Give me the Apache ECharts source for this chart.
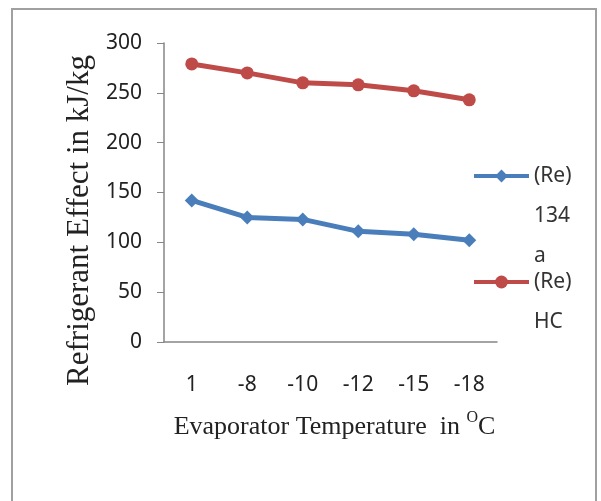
<!DOCTYPE html>
<html>
<head>
<meta charset="utf-8">
<script src="https://cdn.jsdelivr.net/npm/echarts@6/dist/echarts.min.js"></script>
<style>
html,body{margin:0;padding:0;background:#fff;}
#chart{width:601px;height:501px;}
</style>
</head>
<body>
<div id="chart"></div>
<script>
var categories = ['1', '-8', '-10', '-12', '-15', '-18'];
var re134a = [142, 125, 123, 111, 108, 102];
var reHC = [279, 270, 260, 258, 252, 243];
var seriesNames = ['(Re) 134a', '(Re) HC'];
var legendLines = {'(Re) 134a': '\n\n(Re)\n134\na', '(Re) HC': '\n(Re)\nHC'};
var yTicks = {min: 0, max: 300, interval: 50};

var chart = echarts.init(document.getElementById('chart'), null, {renderer: 'canvas'});
var sans = '"Noto Sans", "Open Sans", sans-serif';
var serif = '"Liberation Serif", "DejaVu Serif", serif';
var BLUE = '#4A7EBB', RED = '#BE4B48';

function legendCfg(name, top) {
  return {
    data: [name],
    orient: 'vertical',
    left: 472,
    top: top,
    padding: 0,
    itemWidth: 55,
    itemHeight: 16,
    selectedMode: false,
    lineStyle: {width: 4},
    formatter: function (n) { return legendLines[n]; },
    textStyle: {fontFamily: sans, fontSize: 21, color: '#333', lineHeight: 40}
  };
}

chart.setOption({
  animation: false,
  backgroundColor: '#fff',
  graphic: [{
    type: 'rect',
    shape: {x: 12, y: 9, width: 584, height: 520},
    style: {fill: 'none', stroke: '#a0a0a0', lineWidth: 2},
    silent: true
  }],
  grid: {left: 164, top: 43, width: 333, height: 299},
  legend: [legendCfg(seriesNames[0], 76), legendCfg(seriesNames[1], 222)],
  xAxis: {
    type: 'category',
    data: categories,
    boundaryGap: true,
    axisLine: {lineStyle: {color: '#868686', width: 1.5}},
    axisTick: {show: false},
    axisLabel: {fontFamily: sans, fontSize: 21, color: '#222', margin: 33},
    name: '{t|Evaporator Temperature  in }{sup|O}{t|C}',
    nameLocation: 'middle',
    nameGap: 68,
    nameTextStyle: {
      padding: [0, 0, 0, 8],
      rich: {
        t: {fontFamily: serif, fontSize: 26, color: '#222', verticalAlign: 'bottom', lineHeight: 30},
        sup: {fontFamily: serif, fontSize: 16, color: '#222', verticalAlign: 'top', lineHeight: 30, padding: [0, 0, 12, 0]}
      }
    }
  },
  yAxis: {
    type: 'value',
    min: yTicks.min,
    max: yTicks.max,
    interval: yTicks.interval,
    splitLine: {show: false},
    axisLine: {show: true, lineStyle: {color: '#868686', width: 1.5}},
    axisTick: {show: true, inside: false, length: 7, lineStyle: {color: '#868686'}},
    axisLabel: {fontFamily: sans, fontSize: 21, color: '#222', margin: 22},
    name: 'Refrigerant Effect in kJ/kg',
    nameLocation: 'middle',
    nameGap: 62,
    nameTextStyle: {fontFamily: serif, fontSize: 31, color: '#222', padding: [0, 56, 0, 0]}
  },
  series: [{
    name: seriesNames[0],
    type: 'line',
    data: re134a,
    symbol: 'diamond',
    symbolSize: 14,
    lineStyle: {color: BLUE, width: 5},
    itemStyle: {color: BLUE}
  }, {
    name: seriesNames[1],
    type: 'line',
    data: reHC,
    symbol: 'circle',
    symbolSize: 13,
    lineStyle: {color: RED, width: 5},
    itemStyle: {color: RED}
  }]
});
</script>
</body>
</html>
